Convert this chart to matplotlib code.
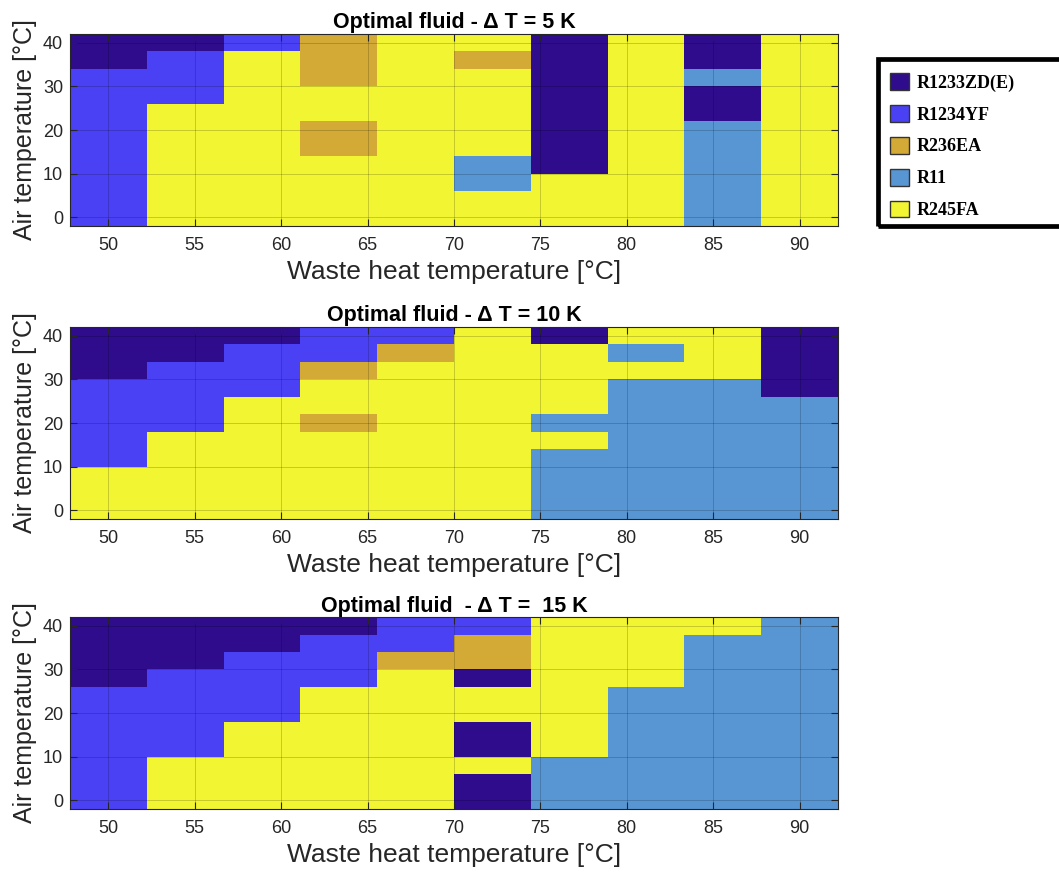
import matplotlib.pyplot as plt
import numpy as np
from matplotlib.colors import ListedColormap
from matplotlib.patches import Patch, Rectangle

plt.rcParams['font.family'] = ['Liberation Sans', 'DejaVu Sans']

# grid of operating points
waste_heat_T = [50, 54.44, 58.89, 63.33, 67.78, 72.22, 76.67, 81.11, 85.56, 90]
air_T        = [0, 4, 8, 12, 16, 20, 24, 28, 32, 36, 40]

fluids  = ["R1233ZD(E)", "R1234YF", "R236EA", "R11", "R245FA"]
colours = ["#2e0c8c", "#4a41f4", "#d3aa36", "#5896d3", "#f2f531"]

# optimal fluid index (into fluids), rows listed from 40 degC down to 0 degC
best_dT5 = [
    [0, 0, 1, 2, 4, 4, 0, 4, 0, 4],
    [0, 1, 4, 2, 4, 2, 0, 4, 0, 4],
    [1, 1, 4, 2, 4, 4, 0, 4, 3, 4],
    [1, 1, 4, 4, 4, 4, 0, 4, 0, 4],
    [1, 4, 4, 4, 4, 4, 0, 4, 0, 4],
    [1, 4, 4, 2, 4, 4, 0, 4, 3, 4],
    [1, 4, 4, 2, 4, 4, 0, 4, 3, 4],
    [1, 4, 4, 4, 4, 3, 0, 4, 3, 4],
    [1, 4, 4, 4, 4, 3, 4, 4, 3, 4],
    [1, 4, 4, 4, 4, 4, 4, 4, 3, 4],
    [1, 4, 4, 4, 4, 4, 4, 4, 3, 4],
]

best_dT10 = [
    [0, 0, 0, 1, 1, 4, 0, 4, 4, 0],
    [0, 0, 1, 1, 2, 4, 4, 3, 4, 0],
    [0, 1, 1, 2, 4, 4, 4, 4, 4, 0],
    [1, 1, 1, 4, 4, 4, 4, 3, 3, 0],
    [1, 1, 4, 4, 4, 4, 4, 3, 3, 3],
    [1, 1, 4, 2, 4, 4, 3, 3, 3, 3],
    [1, 4, 4, 4, 4, 4, 4, 3, 3, 3],
    [1, 4, 4, 4, 4, 4, 3, 3, 3, 3],
    [4, 4, 4, 4, 4, 4, 3, 3, 3, 3],
    [4, 4, 4, 4, 4, 4, 3, 3, 3, 3],
    [4, 4, 4, 4, 4, 4, 3, 3, 3, 3],
]

best_dT15 = [
    [0, 0, 0, 0, 1, 1, 4, 4, 4, 3],
    [0, 0, 0, 1, 1, 2, 4, 4, 3, 3],
    [0, 0, 1, 1, 2, 2, 4, 4, 3, 3],
    [0, 1, 1, 1, 4, 0, 4, 4, 3, 3],
    [1, 1, 1, 4, 4, 4, 4, 3, 3, 3],
    [1, 1, 1, 4, 4, 4, 4, 3, 3, 3],
    [1, 1, 4, 4, 4, 0, 4, 3, 3, 3],
    [1, 1, 4, 4, 4, 0, 4, 3, 3, 3],
    [1, 4, 4, 4, 4, 4, 3, 3, 3, 3],
    [1, 4, 4, 4, 4, 0, 3, 3, 3, 3],
    [1, 4, 4, 4, 4, 0, 3, 3, 3, 3],
]

titles = ["Optimal fluid - \u0394 T = 5 K",
          "Optimal fluid - \u0394 T = 10 K",
          "Optimal fluid  - \u0394 T =  15 K"]
maps = [best_dT5, best_dT10, best_dT15]

cmap = ListedColormap(colours)
ink  = "#262626"

fig = plt.figure(figsize=(10.59, 8.77), dpi=100)

# axes boxes in figure fractions (left, bottom, width, height)
boxes = [[0.0661, 0.7423, 0.7252, 0.2189],
         [0.0661, 0.4082, 0.7252, 0.2189],
         [0.0661, 0.0775, 0.7252, 0.2189]]

for box, data, title in zip(boxes, maps, titles):
    ax = fig.add_axes(box)
    grid = np.array(data)[::-1]   # flip so row 0 is 0 degC
    ax.pcolormesh(waste_heat_T, air_T, grid, cmap=cmap, vmin=-0.5, vmax=4.5,
                  shading='nearest')
    ax.set_xticks([50, 55, 60, 65, 70, 75, 80, 85, 90])
    ax.set_yticks([0, 10, 20, 30, 40])
    ax.tick_params(direction='in', top=True, right=True, length=5, width=0.8,
                   labelsize=13, colors=ink)
    ax.tick_params(axis='x', pad=8)
    ax.tick_params(axis='y', pad=5)
    ax.grid(True, color='k', alpha=0.18, lw=0.7)
    ax.set_axisbelow(False)
    for s in ax.spines.values():
        s.set_color(ink)
        s.set_linewidth(0.8)
    ax.set_xlabel("Waste heat temperature [\u00b0C]", fontsize=19, color=ink, labelpad=4)
    ax.set_ylabel("Air temperature [\u00b0C]", fontsize=18, color=ink, labelpad=4)
    ax.set_title(title, fontsize=15.5, fontweight='bold', pad=4)

# legend with a heavy frame running off the right edge
fig.add_artist(Rectangle((878 / 1059, 1 - 226 / 877), 0.2, 167 / 877,
                         transform=fig.transFigure, fill=False, lw=3.4,
                         edgecolor='k'))
handles = [Patch(facecolor=c, edgecolor='#333333', lw=1.0) for c in colours]
fig.legend(handles, fluids, loc='upper left', bbox_to_anchor=(881 / 1059, 1 - 64 / 877),
           frameon=False, borderpad=0, handlelength=1.05, handleheight=1.05,
           handletextpad=0.45, labelspacing=0.74,
           prop={'family': 'Liberation Serif', 'weight': 'bold', 'size': 13})

plt.savefig('out.png', dpi=100)
